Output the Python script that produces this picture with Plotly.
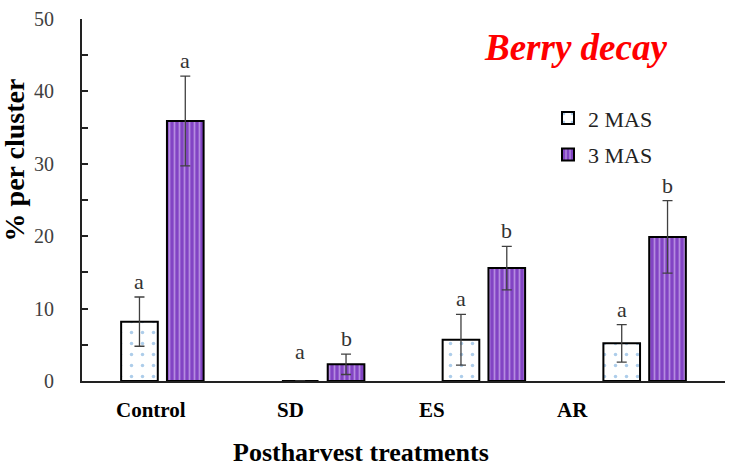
import plotly.graph_objects as go

categories = ["Control", "SD", "ES", "AR"]
mas2 = [8.2, 0.0, 5.7, 5.2]
mas2_err = [3.4, 0.0, 3.5, 2.6]
mas3 = [35.9, 2.3, 15.6, 19.9]
mas3_err = [6.2, 1.4, 3.0, 5.0]
mas2_letters = ["a", "a", "a", "a"]
mas3_letters = ["a", "b", "b", "b"]
y_ticks = [0, 10, 20, 30, 40, 50]

serif = "Liberation Serif"
label_shift = [-11, -33, -52, -72]

fig = go.Figure()
fig.add_trace(go.Bar(
    x=categories, y=mas2, name="2 MAS", legendgroup="g1",
    marker=dict(color="white", line=dict(color="black", width=2),
                pattern=dict(shape=".", fgcolor="#5b9bd5", bgcolor="white", size=11, solidity=0.08)),
    error_y=dict(type="data", array=mas2_err, color="#404040", thickness=1.3, width=5),
))
fig.add_trace(go.Bar(
    x=categories, y=mas3, name="3 MAS", legendgroup="g2",
    marker=dict(color="#8244c4", line=dict(color="black", width=2),
                pattern=dict(shape="|", fgcolor="#e6d2fb", bgcolor="#8244c4", size=5, solidity=0.35)),
    error_y=dict(type="data", array=mas3_err, color="#404040", thickness=1.3, width=5),
))

# significance letters
for i, c in enumerate(categories):
    top2 = max(mas2[i] + mas2_err[i], 2.0)
    fig.add_annotation(x=c, y=top2, text=mas2_letters[i], showarrow=False,
                       xshift=-23, yanchor="bottom", yshift=1,
                       font=dict(family=serif, size=22, color="#333333"))
    fig.add_annotation(x=c, y=mas3[i] + mas3_err[i], text=mas3_letters[i], showarrow=False,
                       xshift=23, yanchor="bottom", yshift=1,
                       font=dict(family=serif, size=22, color="#333333"))
    # category labels
    fig.add_annotation(x=c, y=0, yref="y", text="<b>" + c + "</b>", showarrow=False,
                       xshift=label_shift[i], yshift=-29, yanchor="middle", xanchor="center",
                       font=dict(family=serif, size=21, color="black"))

W, H = 733, 467
L, R, T, B = 82, 8, 15, 86
def px(x):
    return (x - L) / (W - L - R)
def py(y):
    return (H - B - y) / (H - T - B)

fig.add_annotation(xref="paper", yref="paper", x=px(575), y=py(44), text="<b><i>Berry decay</i></b>",
                   xanchor="center", yanchor="middle",
                   showarrow=False, font=dict(family=serif, size=37, color="#ff0000"))
fig.add_annotation(xref="paper", yref="paper", x=px(361), y=py(453), text="<b>Postharvest treatments</b>",
                   xanchor="center", yanchor="middle",
                   showarrow=False, font=dict(family=serif, size=26, color="black"))
fig.add_annotation(xref="paper", yref="paper", x=px(14), y=py(158), text="<b>% per cluster</b>",
                   xanchor="center", yanchor="middle",
                   showarrow=False, textangle=-90, font=dict(family=serif, size=28, color="black"))

fig.update_layout(
    width=W, height=H,
    margin=dict(l=L, r=R, t=T, b=B),
    paper_bgcolor="white", plot_bgcolor="white",
    barmode="group", bargap=0.43, bargroupgap=0.2,
    font=dict(family=serif, color="black"),
    showlegend=True,
    legend=dict(x=px(548), y=py(94), xanchor="left", yanchor="top",
                font=dict(family=serif, size=22, color="#222222"), tracegroupgap=5,
                bgcolor="rgba(0,0,0,0)", itemwidth=30),
    xaxis=dict(range=[-0.5, 3.5], showline=True, linecolor="#222222", linewidth=2,
               showticklabels=False, ticks=""),
    yaxis=dict(range=[0, 50], tickvals=y_ticks, showline=True, linecolor="#222222", linewidth=2,
               ticks="inside", ticklen=6, tickcolor="#222222", tickwidth=1.5,
               minor=dict(dtick=5, ticks="inside", ticklen=6, tickcolor="#222222", tickwidth=1.5),
               showgrid=False, zeroline=False,
               tickfont=dict(family=serif, size=20, color="#404040"), ticklabelstandoff=22),
)

fig.write_html("out.html")
